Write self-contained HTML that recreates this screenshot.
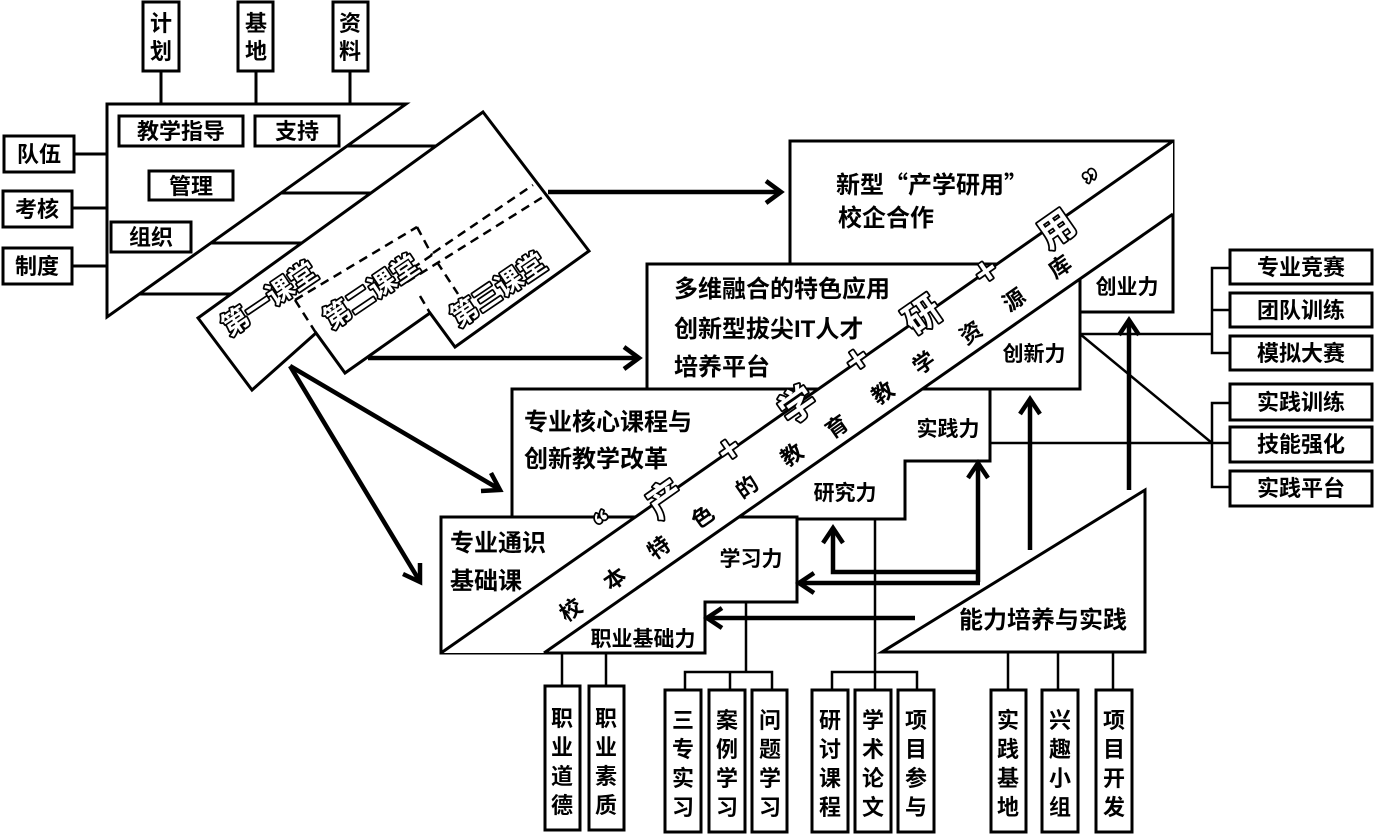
<!DOCTYPE html>
<html><head><meta charset="utf-8"><style>
html,body{margin:0;padding:0;background:#fff;}
svg{display:block;}
text{font-family:"Liberation Sans","Noto Sans CJK SC",sans-serif;font-weight:bold;fill:#000;}
text.o{fill:#fff;stroke:#000;stroke-width:3.5;paint-order:stroke;stroke-linejoin:round;font-weight:bold;font-family:"Noto Sans CJK SC",sans-serif;}
.cj{font-family:"Noto Sans CJK SC",sans-serif;}
</style></head><body>
<svg width="1374" height="834" viewBox="0 0 1374 834" xmlns="http://www.w3.org/2000/svg">
<g stroke="#000" fill="none" stroke-width="3">
<rect x="143" y="2" width="36" height="69" fill="#fff"/>
<rect x="238" y="2" width="35" height="69" fill="#fff"/>
<rect x="333" y="2" width="35" height="69" fill="#fff"/>
<line x1="161" y1="71" x2="161" y2="104"/><line x1="256" y1="71" x2="256" y2="104"/><line x1="350" y1="71" x2="350" y2="104"/>
<rect x="4" y="136" width="70" height="36" fill="#fff"/>
<rect x="3" y="191" width="69" height="36" fill="#fff"/>
<rect x="3" y="248" width="69" height="36" fill="#fff"/>
<line x1="74" y1="154" x2="107" y2="154"/><line x1="72" y1="208" x2="107" y2="208"/><line x1="72" y1="266" x2="107" y2="266"/>
<polygon points="107,104 406,104 107,317" fill="#fff"/>
<rect x="119" y="116" width="124" height="30"/>
<rect x="255" y="116" width="84" height="30"/>
<rect x="149" y="171" width="84" height="29"/>
<rect x="111" y="222" width="80" height="30"/>
<line x1="347" y1="146" x2="436" y2="146"/>
<line x1="281" y1="193" x2="371" y2="193"/>
<line x1="211" y1="243" x2="302" y2="243"/>
<line x1="139" y1="294" x2="231" y2="294"/>
<polygon points="483,112 589,251 455,347 430,313 345,373 316,333 252,390 198,318" fill="#fff"/>
<g stroke-dasharray="9,6" stroke-width="2.5">
<line x1="295" y1="300" x2="417" y2="227"/>
<line x1="417" y1="227" x2="432" y2="255"/>
<line x1="432" y1="255" x2="410" y2="270"/>
<line x1="295" y1="300" x2="316" y2="333"/>
<line x1="433" y1="253" x2="533" y2="185"/>
<line x1="407" y1="282" x2="543" y2="197"/>
<line x1="437" y1="262" x2="458" y2="294"/>
<line x1="420" y1="296" x2="430" y2="313"/>
</g>
<g stroke-width="4.5">
<line x1="548" y1="192" x2="780" y2="192"/><polyline points="766,181 781,192 766,203"/>
<line x1="368" y1="358" x2="638" y2="358"/><polyline points="624,347 639,358 624,369"/>
<line x1="290" y1="366" x2="499" y2="489"/><polyline points="481,491 500,490 491,473"/>
<line x1="290" y1="366" x2="419" y2="580"/><polyline points="403,574 420,582 420,563"/>
</g>
<rect x="790" y="141" width="383" height="171" fill="#fff"/>
<rect x="647" y="264" width="433" height="125" fill="#fff"/>
<polygon points="512,389 990,389 990,461 905,461 905,519 512,519" fill="#fff"/>
<polygon points="441,517 797,517 797,602 705,602 705,653 441,653" fill="#fff"/>
</g>
<polygon points="441,653 1173,141 1173,214 544,653" fill="#fff"/>
<g stroke="#000" stroke-width="3" fill="none">
<line x1="441" y1="653" x2="1173" y2="141"/>
<line x1="544" y1="653" x2="1173" y2="214"/>
<g stroke-width="2.5">
<line x1="1080" y1="334" x2="1212" y2="334"/>
<line x1="1080" y1="334" x2="1212" y2="443"/>
<line x1="990" y1="443" x2="1230" y2="443"/>
<polyline points="1230,268 1212,268 1212,353 1230,353"/><line x1="1212" y1="310" x2="1230" y2="310"/>
<polyline points="1230,403 1212,403 1212,487 1230,487"/>
</g>
<rect x="1230" y="250" width="142" height="34" fill="#fff"/>
<rect x="1230" y="293" width="142" height="34" fill="#fff"/>
<rect x="1230" y="336" width="142" height="34" fill="#fff"/>
<rect x="1230" y="384" width="142" height="36" fill="#fff"/>
<rect x="1230" y="427" width="142" height="35" fill="#fff"/>
<rect x="1230" y="471" width="142" height="35" fill="#fff"/>
<polygon points="882,652 1145,490 1145,652" fill="#fff"/>
<g stroke-width="4.5">
<line x1="1129" y1="490" x2="1129" y2="321"/><polyline points="1119,335 1129,320 1139,335"/>
<line x1="1030" y1="550" x2="1030" y2="400"/><polyline points="1020,414 1030,399 1040,414"/>
<polyline points="980,582 978,582 978,464"/><polyline points="968,478 978,463 988,478"/>
<polyline points="978,572 833,572 833,530"/><polyline points="823,543 833,528 843,543"/>
<line x1="980" y1="583" x2="800" y2="583"/><polyline points="814,573 799,583 814,593"/>
<line x1="915" y1="618" x2="708" y2="618"/><polyline points="722,608 707,618 722,628"/>
</g>
<g stroke-width="2.5">
<line x1="875" y1="519" x2="875" y2="692"/>
<polyline points="832,692 832,672 917,672 917,692"/>
<line x1="746" y1="602" x2="746" y2="672"/>
<polyline points="685,690 685,672 772,672 772,690"/><line x1="730" y1="672" x2="730" y2="690"/>
<line x1="562" y1="653" x2="562" y2="686"/><line x1="606" y1="653" x2="606" y2="686"/>
<line x1="1008" y1="652" x2="1008" y2="690"/><line x1="1058" y1="652" x2="1058" y2="690"/><line x1="1113" y1="652" x2="1113" y2="690"/>
</g>
<rect x="545" y="686" width="35" height="144" fill="#fff"/>
<rect x="589" y="686" width="35" height="144" fill="#fff"/>
<rect x="665" y="690" width="36" height="142" fill="#fff"/>
<rect x="709" y="690" width="36" height="142" fill="#fff"/>
<rect x="752" y="690" width="35" height="142" fill="#fff"/>
<rect x="812" y="690" width="36" height="142" fill="#fff"/>
<rect x="855" y="690" width="36" height="142" fill="#fff"/>
<rect x="898" y="690" width="36" height="142" fill="#fff"/>
<rect x="991" y="690" width="35" height="142" fill="#fff"/>
<rect x="1042" y="690" width="36" height="142" fill="#fff"/>
<rect x="1096" y="690" width="36" height="142" fill="#fff"/>
</g>

<g font-size="22" text-anchor="middle">
<text x="161" y="31">计</text><text x="161" y="59">划</text>
<text x="256" y="31">基</text><text x="256" y="59">地</text>
<text x="350" y="31">资</text><text x="350" y="59">料</text>
<text x="39" y="162">队伍</text><text x="37" y="217">考核</text><text x="37" y="274">制度</text>
<text x="181" y="139">教学指导</text><text x="297" y="139">支持</text>
<text x="191" y="194">管理</text><text x="151" y="245">组织</text>
</g>
<g font-size="27" text-anchor="middle" dominant-baseline="central">
<text class="o" transform="translate(268,297) rotate(-34)">第一课堂</text>
<text class="o" transform="translate(370,290) rotate(-34)">第二课堂</text>
<text class="o" transform="translate(497,288) rotate(-34)">第三课堂</text>
</g>
<g font-size="24">
<text x="836" y="193" class="cj">新型“产学研用”</text>
<text x="838" y="226">校企合作</text>
<text x="674" y="297">多维融合的特色应用</text>
<text x="674" y="337">创新型拔尖IT人才</text>
<text x="674" y="375">培养平台</text>
<text x="524" y="430">专业核心课程与</text>
<text x="524" y="467">创新教学改革</text>
<text x="450" y="551">专业通识</text>
<text x="450" y="589">基础课</text>
</g>
<g font-size="21" text-anchor="middle">
<text x="1127" y="294">创业力</text>
<text x="1034" y="361">创新力</text>
<text x="948" y="436">实践力</text>
<text x="845" y="500">研究力</text>
<text x="751" y="566">学习力</text>
<text x="643" y="646">职业基础力</text>
</g>
<g font-size="22" text-anchor="middle">
<text x="1301" y="275">专业竞赛</text>
<text x="1301" y="318">团队训练</text>
<text x="1301" y="361">模拟大赛</text>
<text x="1301" y="410">实践训练</text>
<text x="1301" y="452">技能强化</text>
<text x="1301" y="496">实践平台</text>
<text x="1043" y="628" font-size="24">能力培养与实践</text>
</g>
<g font-size="22" text-anchor="middle">
<g transform="translate(562,0)"><text y="726">职</text><text y="755">业</text><text y="784">道</text><text y="813">德</text></g>
<g transform="translate(606,0)"><text y="726">职</text><text y="755">业</text><text y="784">素</text><text y="813">质</text></g>
<g transform="translate(683,0)"><text y="728">三</text><text y="757">专</text><text y="786">实</text><text y="815">习</text></g>
<g transform="translate(727,0)"><text y="728">案</text><text y="757">例</text><text y="786">学</text><text y="815">习</text></g>
<g transform="translate(770,0)"><text y="728">问</text><text y="757">题</text><text y="786">学</text><text y="815">习</text></g>
<g transform="translate(830,0)"><text y="728">研</text><text y="757">讨</text><text y="786">课</text><text y="815">程</text></g>
<g transform="translate(873,0)"><text y="728">学</text><text y="757">术</text><text y="786">论</text><text y="815">文</text></g>
<g transform="translate(916,0)"><text y="728">项</text><text y="757">目</text><text y="786">参</text><text y="815">与</text></g>
<g transform="translate(1008,0)"><text y="728">实</text><text y="757">践</text><text y="786">基</text><text y="815">地</text></g>
<g transform="translate(1060,0)"><text y="728">兴</text><text y="757">趣</text><text y="786">小</text><text y="815">组</text></g>
<g transform="translate(1114,0)"><text y="728">项</text><text y="757">目</text><text y="786">开</text><text y="815">发</text></g>
</g>
<g font-size="22" text-anchor="middle" dominant-baseline="central">
<text transform="translate(571,610) rotate(-34.9)">校</text>
<text transform="translate(615,579) rotate(-34.9)">本</text>
<text transform="translate(659,548) rotate(-34.9)">特</text>
<text transform="translate(703,517) rotate(-34.9)">色</text>
<text transform="translate(747,487) rotate(-34.9)">的</text>
<text transform="translate(792,455) rotate(-34.9)">教</text>
<text transform="translate(837,427) rotate(-34.9)">育</text>
<text transform="translate(883,393) rotate(-34.9)">教</text>
<text transform="translate(924,363) rotate(-34.9)">学</text>
<text transform="translate(971,333) rotate(-34.9)">资</text>
<text transform="translate(1014,300) rotate(-34.9)">源</text>
<text transform="translate(1060,267) rotate(-34.9)">库</text>
</g>
<g font-size="36" text-anchor="middle" dominant-baseline="central">
<text class="o" transform="translate(598,530) rotate(-34.9)" font-size="32">“</text>
<text class="o" transform="translate(664,497) rotate(-34.9)">产</text>
<text class="o" transform="translate(728,448) rotate(-34.9)">+</text>
<text class="o" transform="translate(796,403) rotate(-34.9)">学</text>
<text class="o" transform="translate(856,358) rotate(-34.9)">+</text>
<text class="o" transform="translate(921,313) rotate(-34.9)">研</text>
<text class="o" transform="translate(985,270) rotate(-34.9)">+</text>
<text class="o" transform="translate(1055,227) rotate(-34.9)">用</text>
<text class="o" transform="translate(1103,178) rotate(-34.9)" font-size="32">”</text>
</g>
</svg>
</body></html>
